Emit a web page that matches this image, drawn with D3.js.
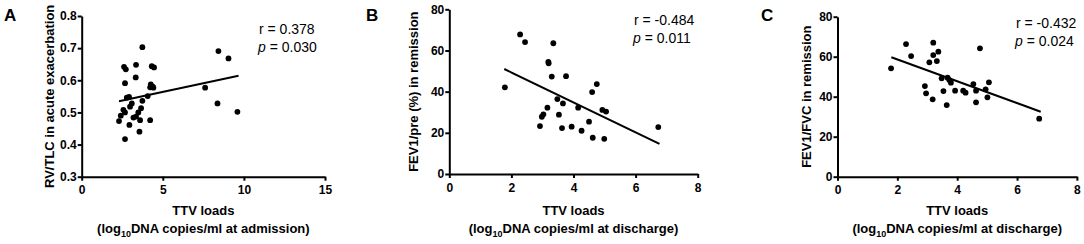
<!DOCTYPE html>
<html>
<head>
<meta charset="utf-8">
<script src="https://cdn.jsdelivr.net/npm/d3@7"></script>
<style>
  body { margin: 0; background: #fff; }
  svg { display: block; font-family: "Liberation Sans", Arial, sans-serif; }
</style>
</head>
<body>
<svg id="drawing_region"></svg>
<script>
// ---- data ----
const pointsA = [
    [2.30,0.473],[2.41,0.490],[2.57,0.508],[2.61,0.642],[2.67,0.417],[2.67,0.500],
    [2.67,0.591],[2.72,0.634],[2.78,0.546],[2.92,0.548],[2.94,0.461],[2.98,0.518],
    [3.09,0.528],[3.19,0.484],[3.33,0.609],[3.35,0.648],[3.35,0.487],[3.49,0.500],
    [3.56,0.440],[3.60,0.476],[3.66,0.513],[3.74,0.703],[3.74,0.536],[4.07,0.551],
    [4.22,0.476],[4.22,0.578],[4.26,0.587],[4.32,0.644],[4.38,0.580],[4.42,0.577],
    [4.46,0.640],[7.61,0.577],[8.37,0.528],[8.43,0.691],[9.05,0.668],[9.60,0.502]
];
const fitA = [[2.30,0.535],[9.67,0.614]];

const pointsB = [
    [1.79,42.1],[2.28,67.8],[2.44,64.1],[2.92,23.3],[2.98,27.8],[3.03,29.0],
    [3.16,32.2],[3.19,54.5],[3.20,53.8],[3.30,47.3],[3.35,63.5],[3.48,36.4],
    [3.53,28.8],[3.63,22.3],[3.66,34.3],[3.76,47.5],[3.94,23.0],[4.15,32.2],
    [4.26,21.0],[4.50,25.4],[4.60,39.8],[4.62,17.6],[4.75,43.7],[4.93,31.1],
    [4.99,17.1],[5.05,30.3],[6.73,22.8]
];
const fitB = [[1.77,51.0],[6.77,14.6]];

const pointsC = [
    [1.79,54.2],[2.29,66.3],[2.46,60.3],[2.92,45.3],[2.96,41.7],[3.07,57.2],
    [3.18,38.7],[3.20,67.0],[3.20,60.8],[3.32,57.8],[3.37,62.5],[3.48,49.2],
    [3.54,42.8],[3.65,35.8],[3.68,49.5],[3.74,48.3],[3.79,47.0],[3.93,43.0],
    [4.20,43.0],[4.28,42.0],[4.54,46.3],[4.63,43.0],[4.63,37.2],[4.76,64.2],
    [4.95,43.7],[5.01,39.7],[5.06,47.2],[6.74,29.0]
];
const fitC = [[1.80,59.7],[6.79,32.5]];

const xticksA = [0, 5, 10, 15];
const yticksA = [0.3, 0.4, 0.5, 0.6, 0.7, 0.8];
const xticksBC = [0, 2, 4, 6, 8];
const yticksBC = [0, 20, 40, 60, 80];

const statsA = ['0.378', '0.030'];
const statsB = ['-0.484', '0.011'];
const statsC = ['-0.432', '0.024'];

const svg = d3.select('#drawing_region')
    .attr('width', 1084)
    .attr('height', 244);

class ScatterPlot {

    constructor(config, data) {
        this.config = config;
        this.data = data;
        this.init();
    }

    init() {
        let self = this;
        let c = self.config;

        self.chart = svg.append('g');

        self.xscale = d3.scaleLinear()
            .domain([c.xticks[0], c.xticks[c.xticks.length - 1]])
            .range([c.left, c.right]);

        self.yscale = d3.scaleLinear()
            .domain([c.yticks[0], c.yticks[c.yticks.length - 1]])
            .range([c.bottom, c.top]);

        self.xaxis = d3.axisBottom(self.xscale)
            .tickValues(c.xticks)
            .tickSize(4)
            .tickSizeOuter(0)
            .tickPadding(5)
            .tickFormat(d3.format('d'));

        self.yaxis = d3.axisLeft(self.yscale)
            .tickValues(c.yticks)
            .tickSize(4)
            .tickSizeOuter(0)
            .tickPadding(1)
            .tickFormat(c.yformat);
    }

    update() {
        let self = this;
        self.render();
    }

    render() {
        let self = this;
        let c = self.config;

        let xg = self.chart.append('g')
            .attr('transform', `translate(0, ${c.bottom})`)
            .call(self.xaxis);
        let yg = self.chart.append('g')
            .attr('transform', `translate(${c.left}, 0)`)
            .call(self.yaxis);

        [xg, yg].forEach(g => {
            g.selectAll('path, line').attr('stroke', '#000').attr('stroke-width', 2);
            g.selectAll('text')
                .attr('fill', '#000')
                .style('font-size', '12px')
                .style('font-weight', 'bold')
                .style('font-family', '"Liberation Sans", Arial, sans-serif');
        });

        self.chart.selectAll('circle.dot')
            .data(self.data.points)
            .join('circle')
            .attr('class', 'dot')
            .attr('cx', d => self.xscale(d[0]))
            .attr('cy', d => self.yscale(d[1]))
            .attr('r', 2.9)
            .attr('fill', '#000');

        let line = d3.line()
            .x(d => self.xscale(d[0]))
            .y(d => self.yscale(d[1]));

        self.chart.append('path')
            .attr('d', line(self.data.fit))
            .attr('stroke', '#000')
            .attr('stroke-width', 2)
            .attr('fill', 'none');

        // panel letter
        self.chart.append('text')
            .attr('x', c.letterX)
            .attr('y', 21)
            .style('font-size', '17px')
            .style('font-weight', 'bold')
            .text(c.letter);

        // statistics
        self.chart.append('text')
            .attr('x', c.statX)
            .attr('y', c.statY)
            .style('font-size', '14px')
            .text(`r = ${self.data.stats[0]}`);
        let pt = self.chart.append('text')
            .attr('x', c.statX - 1)
            .attr('y', c.statY + 18)
            .style('font-size', '14px');
        pt.append('tspan').style('font-style', 'italic').text('p');
        pt.append('tspan').text(` = ${self.data.stats[1]}`);

        // y title
        self.chart.append('text')
            .attr('transform', `translate(${c.left - c.ytitleOffset}, ${(c.top + c.bottom) / 2}) rotate(-90)`)
            .attr('text-anchor', 'middle')
            .style('font-size', '13px')
            .style('font-weight', 'bold')
            .text(c.ytitle);

        // x titles
        let xmid = (c.left + c.right) / 2;
        self.chart.append('text')
            .attr('x', xmid)
            .attr('y', 215)
            .attr('text-anchor', 'middle')
            .style('font-size', '13px')
            .style('font-weight', 'bold')
            .text('TTV loads');
        let sub = self.chart.append('text')
            .attr('x', xmid)
            .attr('y', 233)
            .attr('text-anchor', 'middle')
            .style('font-size', '13px')
            .style('font-weight', 'bold');
        sub.append('tspan').text('(log');
        sub.append('tspan').attr('dy', 4).style('font-size', '9px').text('10');
        sub.append('tspan').attr('dy', -4).text(`DNA copies/ml at ${c.when})`);
    }
}

let plotA = new ScatterPlot({
    letter: 'A', letterX: 4,
    left: 81.7, right: 325, top: 16, bottom: 176.7,
    xticks: xticksA, yticks: yticksA, yformat: d3.format('.1f'),
    ytitle: 'RV/TLC in acute exacerbation', ytitleOffset: 28,
    statX: 259, statY: 34, when: 'admission'
}, { points: pointsA, fit: fitA, stats: statsA });
plotA.update();

let plotB = new ScatterPlot({
    letter: 'B', letterX: 366,
    left: 449.3, right: 697.7, top: 9.3, bottom: 174,
    xticks: xticksBC, yticks: yticksBC, yformat: d3.format('d'),
    ytitle: 'FEV1/pre (%)  in remission', ytitleOffset: 31,
    statX: 634, statY: 25, when: 'discharge'
}, { points: pointsB, fit: fitB, stats: statsB });
plotB.update();

let plotC = new ScatterPlot({
    letter: 'C', letterX: 761,
    left: 837.5, right: 1076.9, top: 16.7, bottom: 176.7,
    xticks: xticksBC, yticks: yticksBC, yformat: d3.format('d'),
    ytitle: 'FEV1/FVC in remission', ytitleOffset: 27,
    statX: 1016, statY: 28, when: 'discharge'
}, { points: pointsC, fit: fitC, stats: statsC });
plotC.update();
</script>
</body>
</html>
